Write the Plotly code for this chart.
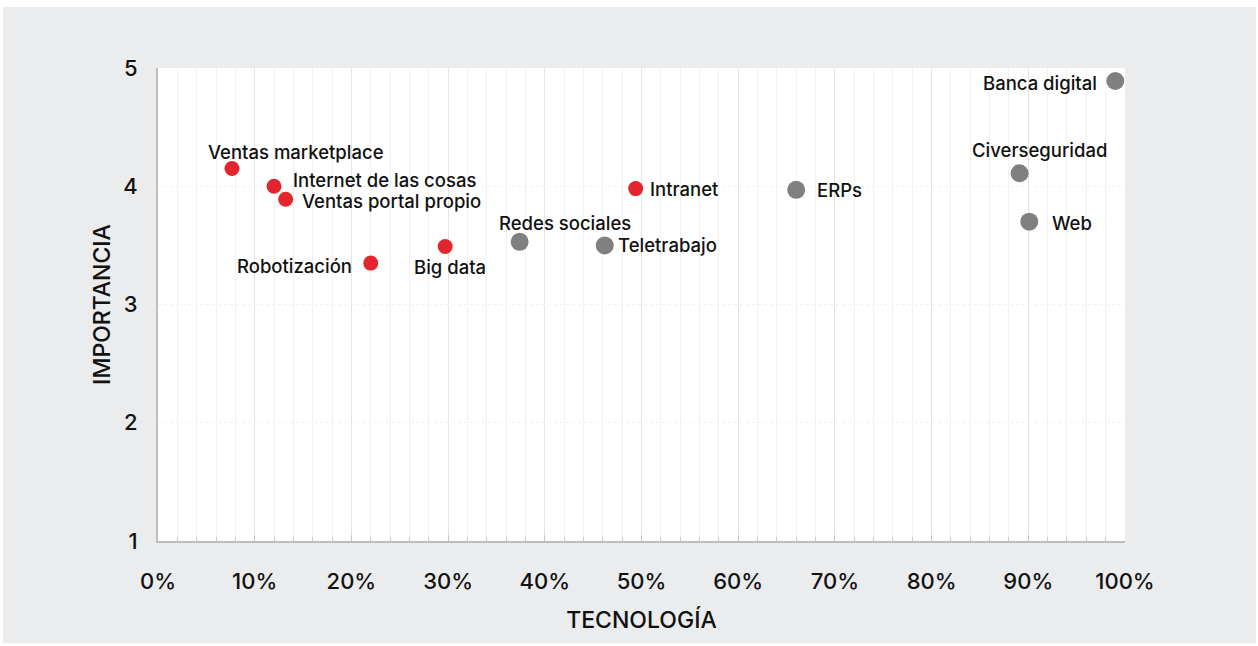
import plotly.graph_objects as go

# Tecnologías: adopción (x) frente a importancia (y)
red_names = ["Ventas marketplace", "Internet de las cosas", "Ventas portal propio",
             "Robotización", "Big data", "Intranet"]
red_x = [0.0765, 0.120, 0.132, 0.220, 0.297, 0.494]
red_y = [4.15, 4.00, 3.89, 3.35, 3.49, 3.98]

grey_names = ["Redes sociales", "Teletrabajo", "ERPs", "Banca digital",
              "Civerseguridad", "Web"]
grey_x = [0.374, 0.462, 0.660, 0.990, 0.891, 0.901]
grey_y = [3.53, 3.50, 3.97, 4.89, 4.11, 3.70]

x_ticks = [0, 0.1, 0.2, 0.3, 0.4, 0.5, 0.6, 0.7, 0.8, 0.9, 1.0]
y_ticks = [1, 2, 3, 4, 5]

# label placement per point: (anchor, dx, dy) in pixels
red_label_pos = [("left", -25, -17), ("left", 18, -6), ("left", 15, 2),
                 ("right", -18, 3), ("center", 5, 20), ("left", 13, 0)]
grey_label_pos = [("center", 45, -19), ("left", 12, 0), ("left", 20, 0),
                  ("right", -17, 2), ("center", 20, -23), ("left", 22, 1)]

RED = "#E3262D"
GREY = "#808080"
FONT = "Inter"
TEXT = "#111111"

fig = go.Figure()
fig.add_trace(go.Scatter(x=red_x, y=red_y, mode="markers", name="",
                         marker=dict(size=15, color=RED), hoverinfo="text",
                         hovertext=red_names))
fig.add_trace(go.Scatter(x=grey_x, y=grey_y, mode="markers", name="",
                         marker=dict(size=18, color=GREY), hoverinfo="text",
                         hovertext=grey_names))

annotations = []
for names, xs, ys, pos in [(red_names, red_x, red_y, red_label_pos),
                           (grey_names, grey_x, grey_y, grey_label_pos)]:
    for n, x, y, (anchor, dx, dy) in zip(names, xs, ys, pos):
        annotations.append(dict(x=x, y=y, xref="x", yref="y", text=n,
                                showarrow=False, xanchor=anchor, yanchor="middle",
                                xshift=dx, yshift=-dy, borderpad=0,
                                font=dict(family=FONT, size=18.5, color=TEXT,
                                          weight=500)))

fig.update_layout(
    width=1258, height=646,
    margin=dict(l=158, r=133, t=68, b=104.5),
    paper_bgcolor="#EBECEE",
    plot_bgcolor="#FFFFFF",
    showlegend=False,
    annotations=annotations,
    font=dict(family=FONT, color=TEXT),
    shapes=[
        # thin white frame around the grey card
        dict(type="rect", xref="paper", yref="paper", x0=-0.2, x1=1.2,
             y0=1.1288, y1=1.2, fillcolor="white", line_width=0, layer="below"),
        dict(type="rect", xref="paper", yref="paper", x0=-0.2, x1=-0.1603,
             y0=-0.3, y1=1.2, fillcolor="white", line_width=0, layer="below"),
        dict(type="rect", xref="paper", yref="paper", x0=1.1355, x1=1.2,
             y0=-0.3, y1=1.2, fillcolor="white", line_width=0, layer="below"),
        dict(type="rect", xref="paper", yref="paper", x0=-0.2, x1=1.2,
             y0=-0.3, y1=-0.2165, fillcolor="white", line_width=0, layer="below"),
    ],
)

fig.update_xaxes(
    range=[0, 1], tickvals=x_ticks, tickformat=".0%",
    showgrid=True, gridcolor="#E4E4E4", gridwidth=1,
    minor=dict(dtick=0.02, showgrid=True, gridcolor="#F1F1F1",
               ticks="inside", ticklen=4, tickcolor="#C8C8C8"),
    ticks="inside", ticklen=6, tickcolor="#C8C8C8",
    showline=True, linecolor="#BDBDBD", linewidth=2,
    zeroline=False, ticklabelstandoff=20,
    tickfont=dict(family=FONT, size=22, color=TEXT, weight=500),
    title=dict(text="TECNOLOGÍA",
               font=dict(family=FONT, size=23, color=TEXT, weight=500),
               standoff=18),
)
fig.update_yaxes(
    range=[1, 5], tickvals=y_ticks,
    showgrid=True, gridcolor="#F2F2F2", gridwidth=1, griddash="dot",
    showline=True, linecolor="#BDBDBD", linewidth=2,
    zeroline=False, ticks="", ticklabelstandoff=14,
    tickfont=dict(family=FONT, size=22, color=TEXT, weight=500),
    title=dict(text="IMPORTANCIA",
               font=dict(family=FONT, size=23, color=TEXT, weight=500),
               standoff=6),
)

fig.write_html("out.html")
